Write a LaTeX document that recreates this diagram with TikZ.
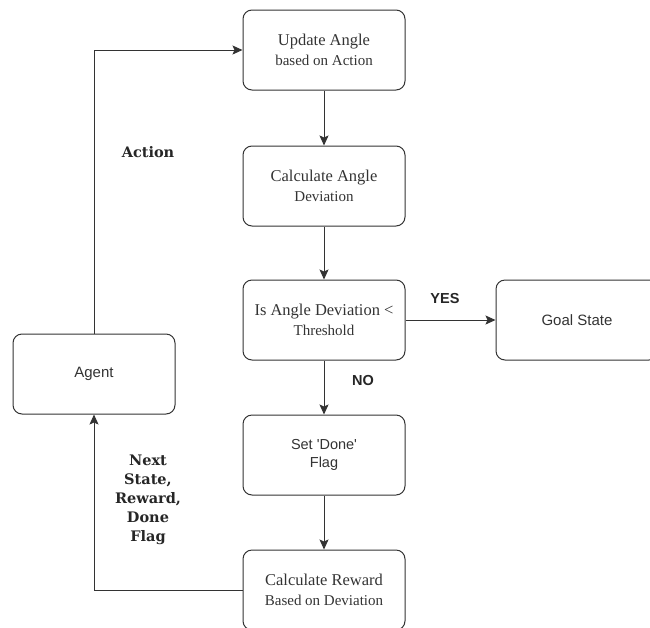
\documentclass[tikz,border=0pt]{standalone}
\usepackage{fontspec}
\setmainfont{Liberation Serif}
\newfontfamily\boxsans{Liberation Sans}
\newfontfamily\lblserif{DejaVu Serif}
\usepackage{tikz}
\usetikzlibrary{arrows.meta}

\newcommand{\sublbl}{\fontsize{15}{18}\selectfont}

\begin{document}
\begin{tikzpicture}[x=1pt,y=-1pt,
  blk/.style={draw=black!80,text=black!80,line width=1pt,rounded corners=9pt,minimum width=162pt,minimum height=80pt,align=center,inner sep=2pt,font=\fontsize{16.5}{20}\selectfont},
  sblk/.style={blk,font=\boxsans\fontsize{15}{19}\selectfont},
  flow/.style={draw=black!80,line width=1pt,-{Stealth[length=10pt,width=9pt,inset=2pt]}},
  lbl/.style={text=black!85,font=\lblserif\bfseries\fontsize{14.5}{19}\selectfont,align=center},
  yn/.style={text=black!85,font=\boxsans\bfseries\fontsize{14.5}{16}\selectfont}]
\useasboundingbox (0,0) rectangle (650,627);

\node[blk] (upd) at (324,50) {Update Angle\\{\sublbl based on Action}};
\node[blk] (dev) at (324,186) {Calculate Angle\\{\sublbl Deviation}};
\node[blk] (chk) at (324,320) {Is Angle Deviation \textless\\{\sublbl Threshold}};
\node[sblk] (goal) at (577,320) {Goal State};
\node[sblk] (agent) at (94,374) {Agent};
\node[sblk,font=\boxsans\fontsize{14.5}{18}\selectfont] (done) at (324,455) {Set 'Done'\\Flag};
\node[blk] (rew) at (324,590) {Calculate Reward\\{\sublbl Based on Deviation}};

\draw[flow] (upd) -- (dev);
\draw[flow] (dev) -- (chk);
\draw[flow] (chk) -- (goal);
\draw[flow] (chk) -- (done);
\draw[flow] (done) -- (rew);
\draw[flow] (agent.north) |- (upd.west);
\draw[flow] (rew.west) -| (agent.south);

\node[lbl] (act) at (148,152) {Action};
\node[lbl] (nxt) at (148,500) {Next\\State,\\Reward,\\Done\\Flag};
\node[yn] (yes) at (445,299) {YES};
\node[yn] (no) at (363,381) {NO};
\end{tikzpicture}
\end{document}
